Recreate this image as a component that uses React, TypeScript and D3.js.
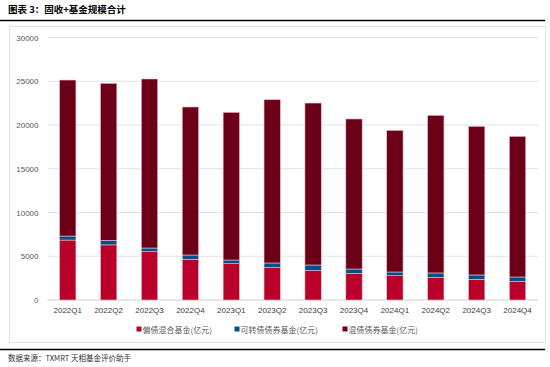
import React from "react";
import * as d3 from "d3";

const categories = ["2022Q1","2022Q2","2022Q3","2022Q4","2023Q1","2023Q2","2023Q3","2023Q4","2024Q1","2024Q2","2024Q3","2024Q4"];
const mixedBond = [6850, 6300, 5520, 4650, 4150, 3730, 3390, 3050, 2780, 2590, 2360, 2110];
const convertible = [460, 520, 420, 490, 420, 500, 610, 490, 420, 500, 500, 520];
const totals = [25140, 24760, 25260, 22060, 21450, 22890, 22510, 20690, 19390, 21100, 19850, 18700];
const seriesNames = ["偏债混合基金(亿元)", "可转债债券基金(亿元)", "混债债券基金(亿元)"];
const yTicks = [0, 5000, 10000, 15000, 20000, 25000, 30000];
const colors = ["#B9002A", "#004F8C", "#6C0019"];

export default function App() {
  const W = 550, H = 367;
  const x = d3.scaleBand<string>().domain(categories).range([47.3, 538]).paddingInner(0.6).paddingOuter(0.3);
  const y = d3.scaleLinear().domain([0, 30000]).range([300, 37.5]);
  const rows = categories.map((c, i) => ({ c, a: mixedBond[i], b: convertible[i], d: totals[i] - mixedBond[i] - convertible[i] }));
  const stack = d3.stack<any>().keys(["a", "b", "d"])(rows);
  const font = "'Liberation Sans', Arial, sans-serif";
  const cjk = "'Noto Sans CJK SC', sans-serif";
  const legendX = [136.5, 234.5, 342.5];
  return (
    <svg width={W} height={H} style={{ position: "absolute", left: 0, top: 0, background: "#fff" }}>
      <text x={8} y={12.5} fontFamily={cjk} fontWeight="bold" fontSize={9.5} fill="#000">图表 3：固收+基金规模合计</text>
      <line x1={0} x2={545} y1={20.5} y2={20.5} stroke="#000" strokeWidth={1.3} />
      <rect x={9.5} y={26.5} width={536} height={316} fill="#fff" stroke="#e3e3e3" strokeWidth={1} />
      {yTicks.map(t => (
        <g key={t}>
          <line x1={47.3} x2={538} y1={y(t)} y2={y(t)} stroke={t === 0 ? "#d0d0d0" : "#e2e2e2"} strokeWidth={1} />
          <text x={38.5} y={y(t) + 3} textAnchor="end" fontFamily={font} fontSize={8} fill="#595959">{t}</text>
        </g>
      ))}
      {stack.map((s, si) => (
        <g key={si}>
          {s.map((p, i) => (
            <rect key={i} x={x(categories[i])!} width={x.bandwidth()} y={y(p[1])} height={y(p[0]) - y(p[1])}
              fill={colors[si]} stroke="#e9c3cc" strokeWidth={0.6} />
          ))}
        </g>
      ))}
      {categories.map(c => (
        <text key={c} x={x(c)! + x.bandwidth() / 2} y={313} textAnchor="middle" fontFamily={font} fontSize={8} fill="#404040">{c}</text>
      ))}
      {seriesNames.map((n, i) => (
        <g key={n}>
          <rect x={legendX[i]} y={326.5} width={5} height={5} fill={colors[i]} />
          <text x={legendX[i] + 6} y={332.5} fontFamily={cjk} fontSize={8} fill="#595959">{n}</text>
        </g>
      ))}
      <line x1={0} x2={545} y1={349.5} y2={349.5} stroke="#000" strokeWidth={1.3} />
      <text x={8} y={361} fontFamily={cjk} fontSize={7.5} fill="#333">数据来源：TXMRT 天相基金评价助手</text>
    </svg>
  );
}
